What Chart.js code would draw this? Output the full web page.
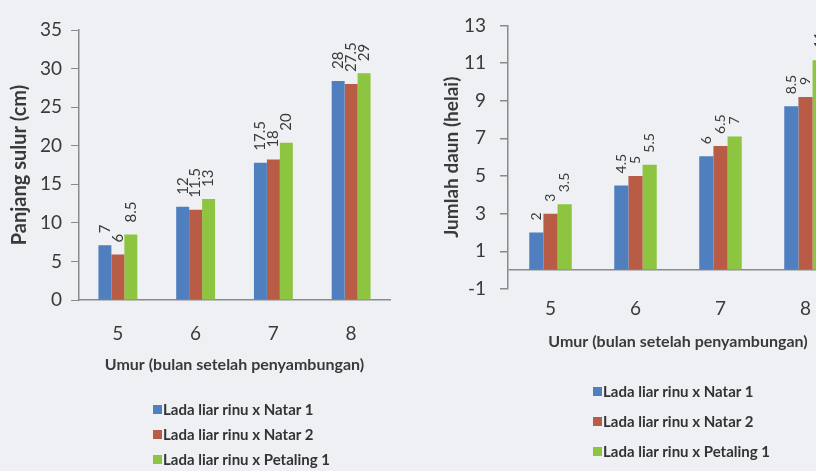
<!DOCTYPE html>
<html>
<head>
<meta charset="utf-8">
<script src="https://cdn.jsdelivr.net/npm/chart.js@4.4.0/dist/chart.umd.min.js"></script>
<style>
  html, body { margin: 0; padding: 0; }
  body { width: 816px; height: 471px; overflow: hidden; background: #eef0f4; position: relative; font-family: Lato, sans-serif; }
  .panel { position: absolute; top: 0; height: 471px; }
  .legend { position: absolute; font: bold 15px Lato, sans-serif; color: #333; }
  .legend div { position: relative; height: 15px; line-height: 15px; white-space: nowrap; padding-left: 10px; }
  .legend span { position: absolute; left: 0; top: 3px; width: 9px; height: 9px; }
</style>
</head>
<body>
<div class="panel" style="left:0;width:400px"><canvas id="c1" width="400" height="471"></canvas></div>
<div class="panel" style="left:430px;width:430px"><canvas id="c2" width="430" height="471"></canvas></div>
<div class="legend" id="lg1" style="left:153px;top:402px"></div>
<div class="legend" id="lg2" style="left:593px;top:384px"></div>
<script>
// shared categories and series names
const months = ['5', '6', '7', '8'];
const seriesNames = ['Lada liar rinu x Natar 1', 'Lada liar rinu x Natar 2', 'Lada liar rinu x Petaling 1'];
const colors = ['#4f7fbf', '#b95c45', '#8dc440'];

// left chart: Panjang sulur (cm)
const sulurNatar1 = [7.1, 12.1, 17.8, 28.4];
const sulurNatar2 = [5.9, 11.7, 18.2, 28.0];
const sulurPetaling = [8.5, 13.1, 20.4, 29.4];
const sulurLabels = [['7', '12', '17.5', '28'], ['6', '11.5', '18', '27.5'], ['8.5', '13', '20', '29']];

// right chart: Jumlah daun (helai)
const daunNatar1 = [2.0, 4.5, 6.05, 8.7];
const daunNatar2 = [3.0, 5.0, 6.6, 9.2];
const daunPetaling = [3.5, 5.6, 7.1, 11.15];
const daunLabels = [['2', '4.5', '6', '8.5'], ['3', '5', '6.5', '9'], ['3.5', '5.5', '7', '11']];
const daunTicks = [-1, 0, 1, 3, 5, 7, 9, 11, 13];

const axisColor = '#8a8a8a';
const textColor = '#3a3a3a';

// draws the rotated value labels above each bar
const barLabels = {
  id: 'barLabels',
  afterDatasetsDraw(chart, args, opts) {
    const ctx = chart.ctx;
    ctx.save();
    ctx.font = opts.size + 'px Lato, sans-serif';
    ctx.fillStyle = textColor;
    ctx.textAlign = 'left';
    ctx.textBaseline = 'middle';
    chart.data.datasets.forEach((ds, i) => {
      chart.getDatasetMeta(i).data.forEach((bar, j) => {
        ctx.save();
        ctx.translate(bar.x, bar.y - opts.gap);
        ctx.rotate(-Math.PI / 2);
        ctx.fillText(opts.labels[i][j], 0, 0);
        ctx.restore();
      });
    });
    ctx.restore();
  }
};

function makeDatasets(values) {
  return values.map((v, i) => ({
    label: seriesNames[i],
    data: v,
    backgroundColor: colors[i],
    borderWidth: 0,
    barPercentage: 1,
    categoryPercentage: 0.5
  }));
}

function makeLegend(id) {
  const el = document.getElementById(id);
  seriesNames.forEach((name, i) => {
    const row = document.createElement('div');
    row.innerHTML = '<span style="background:' + colors[i] + '"></span>' + name;
    row.style.marginBottom = id === 'lg1' ? '10px' : '15px';
    el.appendChild(row);
  });
}

Chart.defaults.font.family = 'Lato, sans-serif';
Chart.defaults.color = textColor;

new Chart(document.getElementById('c1'), {
  type: 'bar',
  data: { labels: months, datasets: makeDatasets([sulurNatar1, sulurNatar2, sulurPetaling]) },
  options: {
    responsive: false,
    animation: false,
    devicePixelRatio: 1,
    layout: { padding: { left: 0, right: 10, top: 30, bottom: 97 } },
    plugins: {
      legend: { display: false },
      tooltip: { enabled: false },
      barLabels: { labels: sulurLabels, size: 15, gap: 12 }
    },
    scales: {
      x: {
        afterFit: s => { s.height = 74; },
        grid: { display: false },
        border: { color: axisColor, width: 1.5 },
        ticks: { font: { size: 19 }, padding: 14 },
        title: { display: true, text: 'Umur (bulan setelah penyambungan)', font: { size: 16, weight: 'bold' }, padding: { top: 0, bottom: 0 } }
      },
      y: {
        min: 0, max: 35,
        afterFit: s => { s.width = 79; },
        grid: { drawOnChartArea: false, tickLength: 8, color: axisColor },
        border: { color: axisColor, width: 1.5 },
        ticks: { stepSize: 5, font: { size: 19 }, padding: 9 },
        title: { display: true, text: 'Panjang sulur (cm)', font: { size: 20, weight: 'bold' }, padding: { top: 8, bottom: 0 } }
      }
    }
  },
  plugins: [barLabels]
});

new Chart(document.getElementById('c2'), {
  type: 'bar',
  data: { labels: months, datasets: makeDatasets([daunNatar1, daunNatar2, daunPetaling]) },
  options: {
    responsive: false,
    animation: false,
    devicePixelRatio: 1,
    layout: { padding: { left: 0, right: 12, top: 17, bottom: 120 } },
    plugins: {
      legend: { display: false },
      tooltip: { enabled: false },
      barLabels: { labels: daunLabels, size: 14, gap: 12 }
    },
    scales: {
      x: {
        afterFit: s => { s.height = 62; },
        grid: { display: false },
        border: { display: false },
        ticks: { font: { size: 19 }, padding: 0 },
        title: { display: true, text: 'Umur (bulan setelah penyambungan)', font: { size: 16, weight: 'bold' }, padding: { top: 0, bottom: 0 } }
      },
      y: {
        min: -1, max: 13,
        afterFit: s => { s.width = 78; },
        afterBuildTicks: s => { s.ticks = daunTicks.map(v => ({ value: v })); },
        grid: {
          drawOnChartArea: true,
          tickLength: 8,
          lineWidth: 1.5,
          color: c => (c.tick && c.tick.value === 0 ? axisColor : 'rgba(0,0,0,0)'),
          tickColor: c => (c.tick && c.tick.value === 0 ? 'rgba(0,0,0,0)' : axisColor)
        },
        border: { color: axisColor, width: 1.5 },
        ticks: { font: { size: 19 }, padding: 14, callback: v => (v === 0 ? '' : v) },
        title: { display: true, text: 'Jumlah daun (helai)', font: { size: 19, weight: 'bold' }, padding: { top: 10, bottom: 0 } }
      }
    }
  },
  plugins: [barLabels]
});

makeLegend('lg1');
makeLegend('lg2');
</script>
</body>
</html>
